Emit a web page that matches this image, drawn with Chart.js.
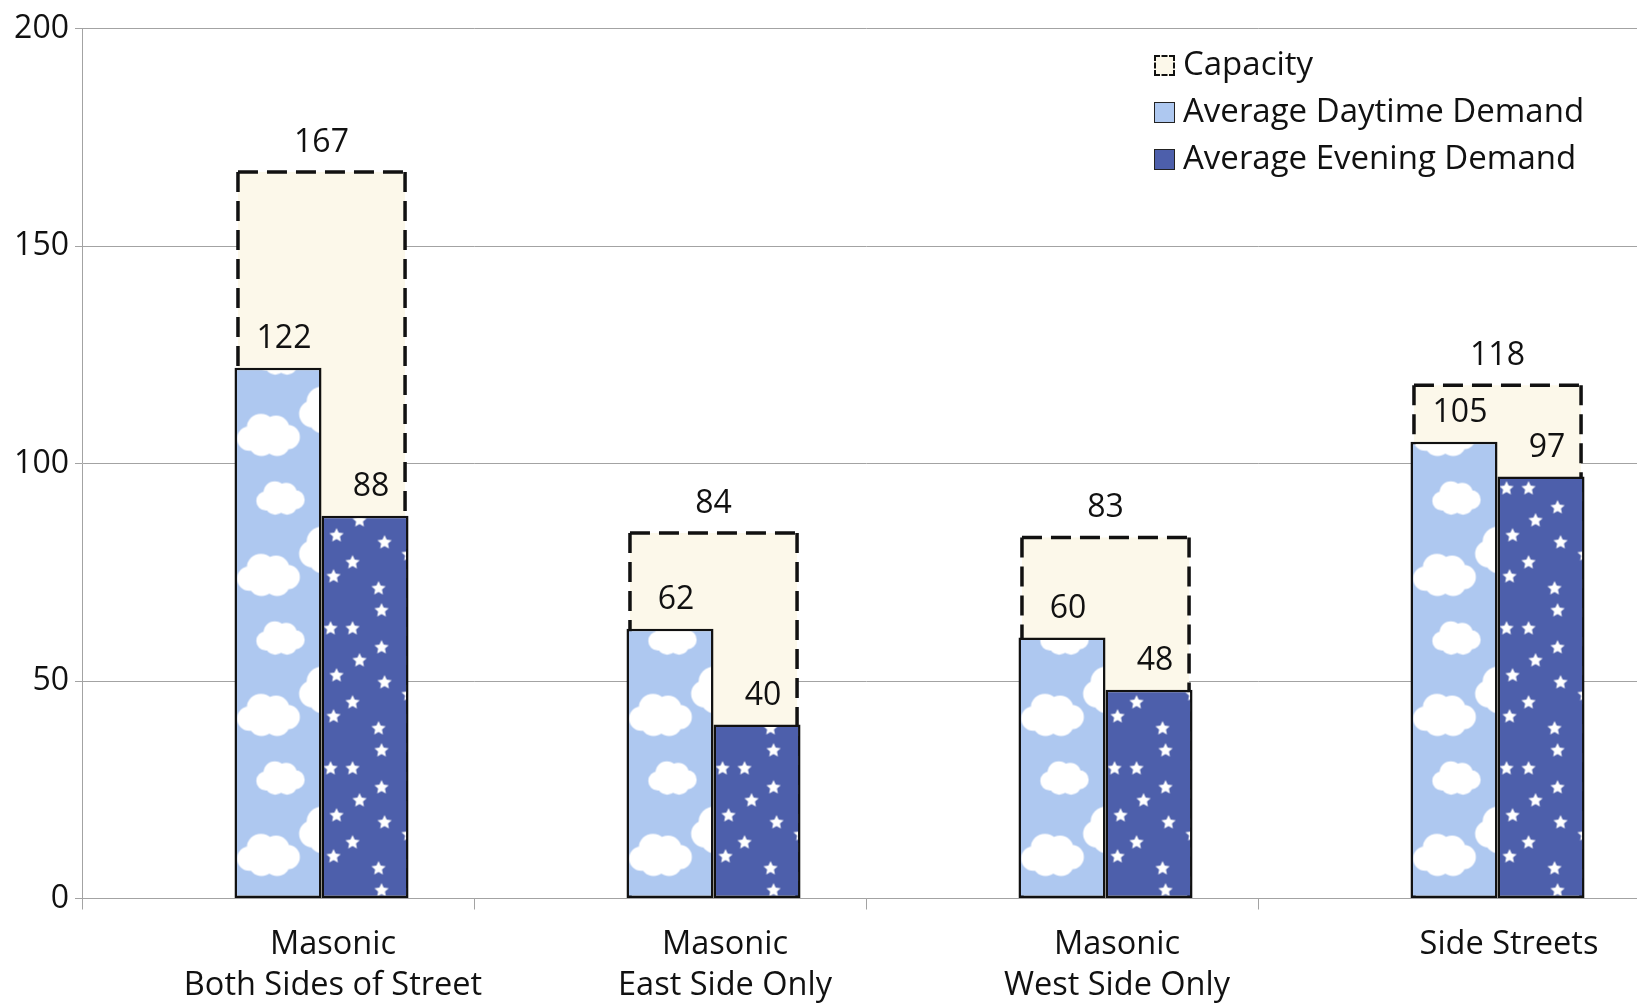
<!DOCTYPE html>
<html>
<head>
<meta charset="utf-8">
<script src="https://cdn.jsdelivr.net/npm/chart.js@4.4.1/dist/chart.umd.min.js"></script>
<style>
  html, body { margin: 0; padding: 0; background: #fff; overflow: hidden; width: 1637px; height: 1007px; }
  #wrap { position: absolute; left: 0; top: 0; width: 1660px; height: 1007px; }
  #legend { position: absolute; left: 1154px; top: 39px; font-family: "Open Sans", sans-serif; font-size: 33px; color: #111; }
  #legend .row { display: flex; align-items: center; height: 47px; white-space: nowrap; }
  #legend .sw { display: inline-block; width: 21px; height: 21px; margin-right: 8px; margin-top: 6px; box-sizing: border-box; }
</style>
</head>
<body>
<div id="wrap"><canvas id="c"></canvas></div>
<div id="legend"></div>
<script>
// ---- data ----
const categories = [
  ['Masonic', 'Both Sides of Street'],
  ['Masonic', 'East Side Only'],
  ['Masonic', 'West Side Only'],
  'Side Streets'
];
const seriesNames = ['Capacity', 'Average Daytime Demand', 'Average Evening Demand'];
const capacity = [167, 84, 83, 118];
const daytime  = [122, 62, 60, 105];
const evening  = [88, 40, 48, 97];
const yTicks   = [0, 50, 100, 150, 200];

// ---- styles ----
const FONT = '"Open Sans", sans-serif';
const TEXT = '#111111';
const GRID = '#a3a3a3';
const CAP_FILL = '#fcf8ea';
const DAY_FILL = '#aec8f0';
const EVE_FILL = '#4d5fab';
const CAT_PCT = 0.666;           // three equal slots: spacer, daytime, evening
const CAP_CAT_PCT = CAT_PCT / 2; // capacity slot is half as wide, centred between the two demand bars
const CAP_BAR_PCT = 3.84;        // capacity spans both demand bars

Chart.defaults.font.family = FONT;
Chart.defaults.color = TEXT;

// pattern tiles
function cloud(g, cx, cy, w, h) {
  const r = h * 0.34;
  const pts = [
    [-0.33, 0.08, 0.95], [-0.13, -0.2, 1.1], [0.13, -0.17, 1.05], [0.33, 0.04, 0.95],
    [-0.12, 0.2, 1.0], [0.15, 0.2, 1.0], [0.0, 0.0, 1.1]
  ];
  g.beginPath();
  pts.forEach(p => { g.moveTo(cx + p[0] * w + p[2] * r, cy + p[1] * h); g.arc(cx + p[0] * w, cy + p[1] * h, p[2] * r, 0, Math.PI * 2); });
  g.fill();
}
function star(g, cx, cy, R) {
  const r = R * 0.48;
  g.beginPath();
  for (let i = 0; i < 10; i++) {
    const a = -Math.PI / 2 + i * Math.PI / 5;
    const rr = i % 2 ? r : R;
    const px = cx + Math.cos(a) * rr, py = cy + Math.sin(a) * rr;
    i ? g.lineTo(px, py) : g.moveTo(px, py);
  }
  g.closePath();
  g.fill();
}
function makeTile(bg, drawFn) {
  const t = document.createElement('canvas');
  t.width = 200; t.height = 140;
  const g = t.getContext('2d');
  g.fillStyle = bg; g.fillRect(0, 0, t.width, t.height);
  g.fillStyle = '#ffffff';
  g.filter = 'blur(0.4px)';
  drawFn(g);
  return t;
}
const cloudTile = makeTile(DAY_FILL, g => {
  cloud(g, 46, 20, 44, 30);
  cloud(g, 46, 160, 44, 30);
  cloud(g, 94, 72, 48, 42);
  cloud(g, 34, 97, 58, 38);
});
const starTile = makeTile(EVE_FILL, g => {
  [[9,10],[31,10],[60,29],[38,42],[15,57],[63,64],[31,84],[12,98],[57,110],[60,132],[87,76]]
    .forEach(p => star(g, p[0], p[1], 7.5));
});

function patternFor(tile, slot, fallback) {
  return (ctx) => {
    const chart = ctx.chart;
    const xs = chart.scales.x;
    if (!xs || !chart.chartArea || ctx.dataIndex === undefined) return fallback;
    const cw = xs.width / categories.length;
    const bw = cw * CAT_PCT / 3;
    const left = xs.getPixelForValue(ctx.dataIndex) - 1.5 * bw + slot * bw;
    const pat = chart.ctx.createPattern(tile, 'repeat');
    pat.setTransform(new DOMMatrix([1, 0, 0, 1, left, chart.chartArea.bottom]));
    return pat;
  };
}

const outlinePlugin = {
  id: 'dashedOutline',
  afterDatasetDraw(chart, args) {
    const ds = chart.data.datasets[args.index];
    if (!ds.dashedOutline) return;
    const c = chart.ctx;
    c.save();
    c.setLineDash([20, 9]);
    c.lineWidth = 3.5;
    c.strokeStyle = '#111';
    args.meta.data.forEach(el => {
      const {x, y, base, width} = el.getProps(['x', 'y', 'base', 'width'], true);
      const l = x - width / 2, r = x + width / 2;
      c.beginPath(); c.moveTo(l, y); c.lineTo(l, base); c.stroke();
      c.beginPath(); c.moveTo(l, y); c.lineTo(r, y); c.stroke();
      c.beginPath(); c.moveTo(r, y); c.lineTo(r, base); c.stroke();
    });
    c.restore();
  }
};

const labelPlugin = {
  id: 'valueLabels',
  afterDatasetsDraw(chart) {
    const c = chart.ctx;
    c.save();
    c.font = '32px ' + FONT;
    c.fillStyle = TEXT;
    c.textAlign = 'center';
    c.textBaseline = 'alphabetic';
    chart.data.datasets.forEach((ds, i) => {
      if (ds.spacer) return;
      const dx = ds.dashedOutline ? 0 : 6;
      const meta = chart.getDatasetMeta(i);
      meta.data.forEach((el, j) => {
        const {x, y} = el.getProps(['x', 'y'], true);
        c.fillText(String(ds.data[j]), x + dx, y - 20);
      });
    });
    c.restore();
  }
};

new Chart(document.getElementById('c'), {
  type: 'bar',
  data: {
    labels: categories,
    datasets: [
      { label: '', spacer: true, data: categories.map(() => null), stack: 's0', order: 1,
        categoryPercentage: CAT_PCT, barPercentage: 1 },
      { label: seriesNames[1], data: daytime, stack: 's1', order: 1,
        backgroundColor: patternFor(cloudTile, 1, DAY_FILL), borderColor: '#111', borderWidth: 2.5, borderSkipped: false,
        categoryPercentage: CAT_PCT, barPercentage: 1 },
      { label: seriesNames[2], data: evening, stack: 's2', order: 1,
        backgroundColor: patternFor(starTile, 2, EVE_FILL), borderColor: '#111', borderWidth: 2.5, borderSkipped: false,
        categoryPercentage: CAT_PCT, barPercentage: 1 },
      { label: seriesNames[0], data: capacity, stack: 's2', order: 2, dashedOutline: true,
        backgroundColor: CAP_FILL, borderWidth: 0,
        categoryPercentage: CAP_CAT_PCT, barPercentage: CAP_BAR_PCT }
    ]
  },
  options: {
    responsive: true,
    maintainAspectRatio: false,
    animation: false,
    events: [],
    layout: { padding: { top: 28.5, right: 10, left: 0, bottom: 0 } },
    plugins: { legend: { display: false }, tooltip: { enabled: false } },
    scales: {
      x: {
        type: 'category',
        offset: true,
        grid: { display: true, drawOnChartArea: false, drawTicks: true, tickLength: 11, color: GRID, offset: true },
        border: { display: true, color: GRID, width: 1 },
        ticks: { font: { size: 32.5, lineHeight: 1.26 }, color: TEXT, padding: 15, labelOffset: 55, maxRotation: 0, autoSkip: false },
        afterFit: (s) => { s.height = 108.5; }
      },
      y: {
        min: 0, max: 200,
        stacked: false,
        afterBuildTicks: (axis) => { axis.ticks = yTicks.map(v => ({ value: v })); },
        grid: { color: GRID, lineWidth: 1, tickLength: 7, drawTicks: true },
        border: { display: true, color: GRID, width: 1 },
        ticks: { font: { size: 32 }, color: TEXT, padding: 6 },
        afterFit: (s) => { s.width = 82; }
      }
    }
  },
  plugins: [outlinePlugin, labelPlugin]
});

// legend
const legend = document.getElementById('legend');
const swatchStyles = [
  'background:' + CAP_FILL + ';border:2.5px dashed #111;',
  'background:' + DAY_FILL + ';border:1.5px solid #222;',
  'background:' + EVE_FILL + ';border:1.5px solid #222;'
];
seriesNames.forEach((name, i) => {
  const row = document.createElement('div');
  row.className = 'row';
  const sw = document.createElement('span');
  sw.className = 'sw';
  sw.style.cssText = swatchStyles[i];
  const tx = document.createElement('span');
  tx.textContent = name;
  row.appendChild(sw); row.appendChild(tx);
  legend.appendChild(row);
});
</script>
</body>
</html>
